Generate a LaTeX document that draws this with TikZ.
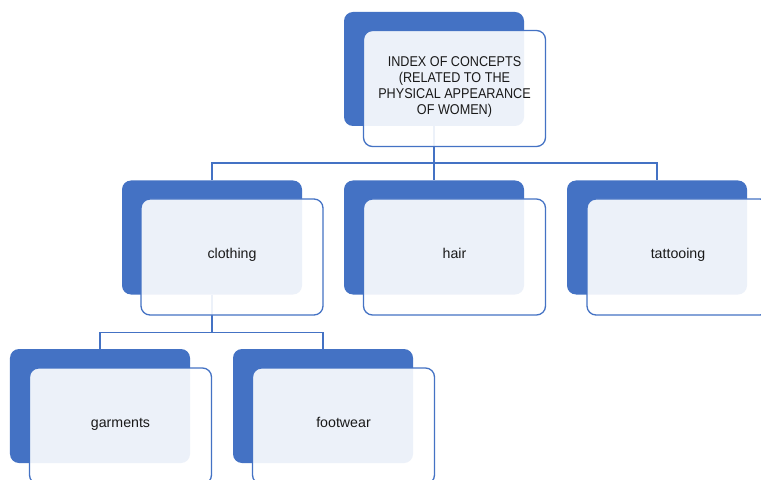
\documentclass[tikz,border=0pt]{standalone}
\usepackage{fontspec}
\setmainfont{Liberation Sans}
\newfontfamily\capsfont{Liberation Sans}[FakeStretch=0.89]
\usetikzlibrary{calc}
\definecolor{accent}{HTML}{4472C4}
\begin{document}
\begin{tikzpicture}[x=1bp,y=-1bp,
  back/.style={fill=accent, rounded corners=9bp, minimum width=180bp, minimum height=114bp, inner sep=0pt},
  front/.style={draw=accent, line width=1.3bp, fill=white, fill opacity=0.9, rounded corners=9bp, minimum width=182bp, minimum height=116bp, inner sep=0pt},
  conn/.style={draw=accent, line width=1.4bp},
  lbl/.style={font=\fontsize{14.2bp}{16bp}\selectfont, text=black!90, anchor=base, inner sep=0pt},
  toplbl/.style={font=\capsfont\fontsize{14.2bp}{16bp}\selectfont, align=center, inner sep=0pt, text=black!90}]
\useasboundingbox (0,0) rectangle (761,480);
\clip (0,0) rectangle (761,480);
\fill[white] (0,0) rectangle (761,480);
% back boxes
\node[back] (b0) at (434,69) {};
\node[back] (b1) at (212,237.5) {};
\node[back] (b2) at (434,237.5) {};
\node[back] (b3) at (657,237.5) {};
\node[back] (b4) at (100,406) {};
\node[back] (b5) at (323,406) {};
% connectors
\draw[conn] (b0.south) -- ++(0,37) coordinate (bus0);
\draw[conn] (bus0) -- (b2.north);
\draw[conn] (b1.north) |- (bus0) -| (b3.north);
\draw[conn] (b1.south) -- ++(0,38) coordinate (bus1);
\draw[conn] (b4.north) |- (bus1) -| (b5.north);
% front boxes
\node[front] (f0) at (454.5,88.5) {};
\node[front] (f1) at (232,257) {};
\node[front] (f2) at (454.5,257) {};
\node[front] (f3) at (678,257) {};
\node[front] (f4) at (120.5,426) {};
\node[front] (f5) at (343.5,426) {};
% texts
\node[toplbl] (t0) at ($(f0.center)+(0,-1)$) {INDEX OF CONCEPTS\\(RELATED TO THE\\PHYSICAL APPEARANCE\\OF WOMEN)};
\node[lbl] (t1) at ($(f1.center)+(0,1.5)$) {clothing};
\node[lbl] (t2) at ($(f2.center)+(0,1.5)$) {hair};
\node[lbl] (t3) at ($(f3.center)+(0,1.5)$) {tattooing};
\node[lbl] (t4) at ($(f4.center)+(0,1)$) {garments};
\node[lbl] (t5) at ($(f5.center)+(0,1)$) {footwear};
\end{tikzpicture}
\end{document}
